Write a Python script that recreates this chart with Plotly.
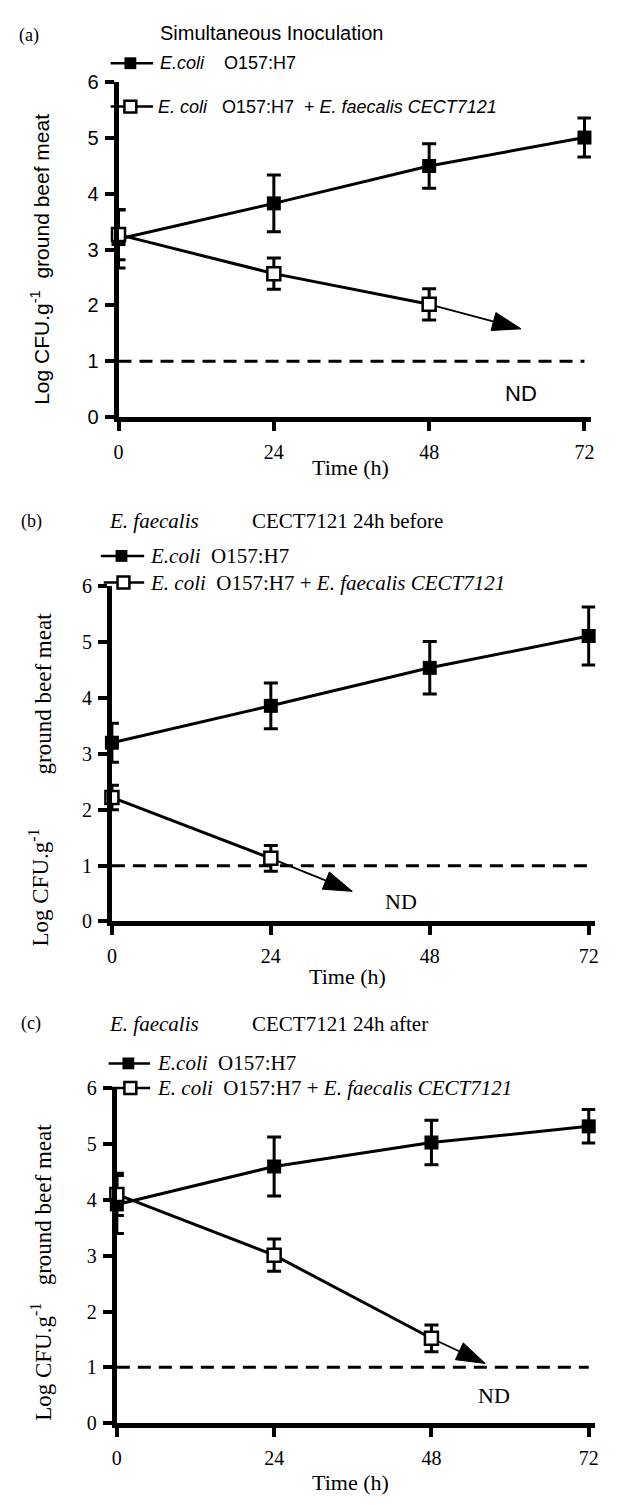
import plotly.graph_objects as go

W, H = 621, 1505
SANS = "Liberation Sans, Arial, sans-serif"
SERIF = "Liberation Serif, Times New Roman, serif"

# ---------------- data ----------------
time_h = [0, 24, 48, 72]
x_ticks = [0, 24, 48, 72]
y_ticks = [0, 1, 2, 3, 4, 5, 6]
detection_limit = 1

# (a) Simultaneous inoculation
a_ecoli = [3.19, 3.83, 4.50, 5.01]
a_ecoli_err = [0.52, 0.51, 0.40, 0.35]
a_mix_time = [0, 24, 48]
a_mix = [3.27, 2.57, 2.02]
a_mix_err = [0.45, 0.28, 0.28]
a_arrow_x = [48, 62.2]
a_arrow_y = [2.02, 1.58]

# (b) E. faecalis 24 h before
b_ecoli = [3.20, 3.86, 4.54, 5.11]
b_ecoli_err = [0.35, 0.41, 0.47, 0.52]
b_mix_time = [0, 24]
b_mix = [2.22, 1.13]
b_mix_err = [0.22, 0.23]
b_arrow_x = [24, 36.3]
b_arrow_y = [1.13, 0.54]

# (c) E. faecalis 24 h after
c_ecoli = [3.92, 4.60, 5.03, 5.32]
c_ecoli_err = [0.52, 0.53, 0.40, 0.30]
c_mix_time = [0, 24, 48]
c_mix = [4.10, 3.01, 1.52]
c_mix_err = [0.38, 0.29, 0.24]
c_arrow_x = [48, 56.2]
c_arrow_y = [1.52, 1.07]

legend_ecoli = "E.coli O157:H7"
legend_mix = "E. coli O157:H7 + E. faecalis CECT7121"


def px(x):
    return x / W


def py(y):
    return 1 - y / H


fig = go.Figure()

panels = [
    dict(ax="", ecoli=a_ecoli, ecoli_err=a_ecoli_err, mix_t=a_mix_time, mix=a_mix,
         mix_err=a_mix_err, arx=a_arrow_x, ary=a_arrow_y,
         xdom=(115, 593.6), ydom=(72.4, 412), tickfont_y=SANS),
    dict(ax="2", ecoli=b_ecoli, ecoli_err=b_ecoli_err, mix_t=b_mix_time, mix=b_mix,
         mix_err=b_mix_err, arx=b_arrow_x, ary=b_arrow_y,
         xdom=(108.3, 598), ydom=(583.8, 924), tickfont_y=SERIF),
    dict(ax="3", ecoli=c_ecoli, ecoli_err=c_ecoli_err, mix_t=c_mix_time, mix=c_mix,
         mix_err=c_mix_err, arx=c_arrow_x, ary=c_arrow_y,
         xdom=(113.3, 598), ydom=(1093.4, 1433), tickfont_y=SERIF),
]

for p in panels:
    xa, ya = "x" + p["ax"], "y" + p["ax"]
    # detection limit
    fig.add_trace(go.Scatter(
        x=[x_ticks[0], x_ticks[-1]], y=[detection_limit, detection_limit],
        mode="lines", line=dict(color="black", width=3, dash="13px,8px"),
        xaxis=xa, yaxis=ya, showlegend=False, hoverinfo="skip", cliponaxis=False))
    # extrapolation arrow
    fig.add_trace(go.Scatter(
        x=p["arx"], y=p["ary"], mode="lines+markers",
        line=dict(color="black", width=1.8),
        marker=dict(symbol="arrow", size=[0, 30], angleref="previous", color="black",
                    opacity=1, line=dict(color="black", width=1)),
        xaxis=xa, yaxis=ya, showlegend=False, hoverinfo="skip", cliponaxis=False))
    # E. coli alone
    fig.add_trace(go.Scatter(
        x=time_h, y=p["ecoli"], mode="lines+markers", name=legend_ecoli,
        line=dict(color="black", width=3),
        marker=dict(symbol="square", size=14, color="black"),
        error_y=dict(type="data", array=p["ecoli_err"], color="black", thickness=3, width=7),
        xaxis=xa, yaxis=ya, showlegend=False, cliponaxis=False))
    # E. coli + E. faecalis
    fig.add_trace(go.Scatter(
        x=p["mix_t"], y=p["mix"], mode="lines+markers", name=legend_mix,
        line=dict(color="black", width=3),
        marker=dict(symbol="square", size=13, color="white", line=dict(color="black", width=2.5)),
        error_y=dict(type="data", array=p["mix_err"], color="black", thickness=3, width=7),
        xaxis=xa, yaxis=ya, showlegend=False, cliponaxis=False))

    axis_common = dict(showgrid=False, zeroline=False, showline=True, linecolor="black",
                       linewidth=5, ticks="outside", ticklen=9, tickwidth=4, tickcolor="black")
    fig.layout["xaxis" + p["ax"]] = dict(
        domain=[px(p["xdom"][0]), px(p["xdom"][1])], anchor=ya, range=[0, 73],
        tickvals=x_ticks, ticktext=[str(v) for v in x_ticks],
        tickfont=dict(family=SERIF, size=20, color="black"), ticklabelstandoff=4,
        **axis_common)
    fig.layout["yaxis" + p["ax"]] = dict(
        domain=[py(p["ydom"][1]), py(p["ydom"][0])], anchor=xa, range=[0, 6],
        tickvals=y_ticks, ticktext=[str(v) for v in y_ticks],
        tickfont=dict(family=p["tickfont_y"], size=20, color="black"), ticklabelstandoff=2,
        **axis_common)

ann = []
shapes = []


def text(x, y, s, family, size, xanchor="left", angle=0):
    ann.append(dict(x=px(x), y=py(y), xref="paper", yref="paper", text=s, showarrow=False,
                    xanchor=xanchor, yanchor="middle", textangle=angle,
                    font=dict(family=family, size=size, color="black")))


def legend_symbol(x1, x2, xm, y, filled):
    shapes.append(dict(type="line", xref="paper", yref="paper", x0=px(x1), x1=px(x2),
                       y0=py(y), y1=py(y), line=dict(color="black", width=2.5)))
    s = 6
    shapes.append(dict(type="rect", xref="paper", yref="paper", x0=px(xm - s), x1=px(xm + s),
                       y0=py(y + s), y1=py(y - s),
                       fillcolor="black" if filled else "white",
                       line=dict(color="black", width=0 if filled else 2.5)))


NB = "\u00a0"

# ---- panel (a) texts ----
text(12, 25, "(a)", SERIF, 18)
text(270, 22, "Simultaneous Inoculation", SANS, 20, xanchor="center")
legend_symbol(107, 150, 127, 53, True)
legend_symbol(107, 150, 127, 97, False)
text(155, 53, "<i>E.coli</i>" + NB * 4 + "O157:H7", SANS, 18)
text(153, 97, "<i>E. coli</i>" + NB * 3 + "O157:H7" + NB * 2 + "+ <i>E. faecalis CECT7121</i>", SANS, 18)
text(36, 252, "Log CFU.g<sup>-1</sup>" + NB * 2 + "ground beef meat", SANS, 21, xanchor="center", angle=-90)
text(350, 463, "Time (h)", SERIF, 22, xanchor="center")
ann.append(dict(x=62.2, y=0.42, xref="x", yref="y", text="ND", showarrow=False,
                font=dict(family=SANS, size=22, color="black")))

# ---- panel (b) texts ----
text(14, 518, "(b)", SERIF, 18)
text(103, 518, "<i>E. faecalis</i>", SERIF, 21)
text(248, 518, "CECT7121 24h before", SERIF, 21)
legend_symbol(97, 141, 118, 553, True)
legend_symbol(100, 141, 120, 580, False)
text(145, 553, "<i>E.coli</i>" + NB * 2 + "O157:H7", SERIF, 21)
text(145, 580, "<i>E. coli</i>" + NB * 2 + "O157:H7 + <i>E. faecalis CECT7121</i>", SERIF, 21)
text(39, 692, "ground beef meat", SERIF, 23, xanchor="center", angle=-90)
text(35, 890, "Log CFU.g<sup>-1</sup>", SERIF, 23, xanchor="center", angle=-90)
text(347, 980, "Time (h)", SERIF, 22, xanchor="center")
ann.append(dict(x=43.7, y=0.36, xref="x2", yref="y2", text="ND", showarrow=False,
                font=dict(family=SERIF, size=22, color="black")))

# ---- panel (c) texts ----
text(14, 1028, "(c)", SERIF, 18)
text(103, 1028, "<i>E. faecalis</i>", SERIF, 21)
text(248, 1028, "CECT7121 24h after", SERIF, 21)
legend_symbol(105, 147, 125, 1068, True)
legend_symbol(107, 147, 127, 1093, False)
text(152, 1068, "<i>E.coli</i>" + NB * 2 + "O157:H7", SERIF, 21)
text(152, 1093, "<i>E. coli</i>" + NB * 2 + "O157:H7 + <i>E. faecalis CECT7121</i>", SERIF, 21)
text(37, 1280, "Log CFU.g<sup>-1</sup>" + NB * 3 + "ground beef meat", SERIF, 23, xanchor="center", angle=-90)
text(350, 1493, "Time (h)", SERIF, 22, xanchor="center")
ann.append(dict(x=57.5, y=0.49, xref="x3", yref="y3", text="ND", showarrow=False,
                font=dict(family=SERIF, size=22, color="black")))

fig.update_layout(
    width=W, height=H, margin=dict(l=0, r=0, t=0, b=0),
    paper_bgcolor="white", plot_bgcolor="white",
    annotations=ann, shapes=shapes, showlegend=False,
)

fig.write_html("out.html", config={"displayModeBar": False},
               post_script="document.body.style.margin='0';document.body.style.padding='0';")
